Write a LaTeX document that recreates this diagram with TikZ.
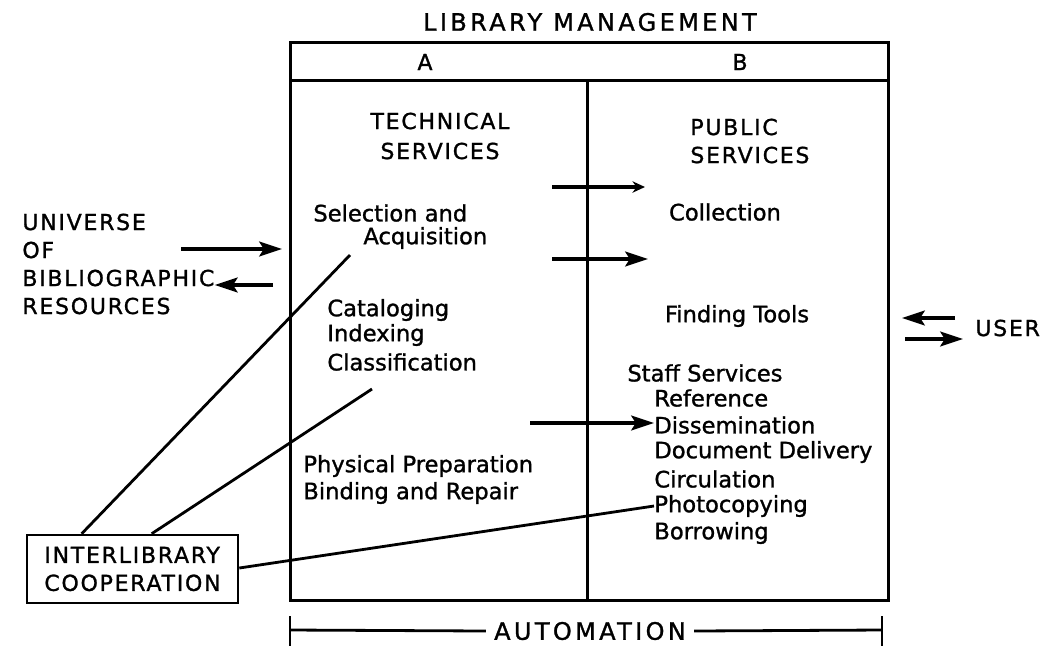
\documentclass[tikz,border=0pt]{standalone}
\usepackage{fontspec}
\setmainfont[FakeBold=1.2]{DejaVu Sans}
\newfontfamily\capsfont[LetterSpace=14, FakeBold=1.2]{DejaVu Sans}
\newfontfamily\sidefont[LetterSpace=8, FakeBold=1.2]{DejaVu Sans}
\usetikzlibrary{arrows.meta, positioning, calc}

\begin{document}
\begin{tikzpicture}[
    x=0.5pt, y=-0.5pt,
    caps/.style={font=\capsfont\fontsize{12}{15}\selectfont, inner sep=0pt, align=left},
    side/.style={font=\sidefont\fontsize{11}{14}\selectfont, inner sep=0pt, align=left},
    item/.style={font=\fontsize{11.3}{13.5}\selectfont, inner sep=0pt, align=left},
    frame/.style={line width=1.5pt},
    arrow/.style={-{Stealth[length=4mm, width=2.6mm, inset=0.8mm]}, line width=1.7pt},
    link/.style={line width=1.4pt}
]
    \useasboundingbox (0,0) rectangle (1056,645);

    % Frame with the two columns
    \node[caps] (title) at (590,22) {LIBRARY MANAGEMENT};
    \draw[frame] (290,42) rectangle (888,600);
    \draw[frame] (290,80) -- (888,80);
    \draw[frame] (587,80) -- (587,600);
    \node[side] (colA) at (425,62) {A};
    \node[side] (colB) at (740,62) {B};

    % Column A
    \node[side, font=\sidefont\fontsize{11}{15}\selectfont, align=center] (tech) at (440,136) {TECHNICAL\\SERVICES};
    \node[item, anchor=west] (sel) at (313,213) {Selection and};
    \node[item, anchor=west] (acq) at (363,238) {Acquisition};
    \node[item, anchor=west] (cat) at (327,310) {Cataloging};
    \node[item, anchor=west] (idx) at (327,335) {Indexing};
    \node[item, anchor=west] (cls) at (327,362) {Classification};
    \node[item, anchor=west] (phys) at (303,466) {Physical Preparation};
    \node[item, anchor=west] (bind) at (303,493) {Binding and Repair};

    % Column B
    \node[side, font=\sidefont\fontsize{11}{14}\selectfont, anchor=west] (pub) at (690,141) {PUBLIC\\SERVICES};
    \node[item] (coll) at (725,212) {Collection};
    \node[item] (find) at (737,316) {Finding Tools};
    \node[item, anchor=west] (staff) at (627,373) {Staff Services};
    \foreach \what [count=\i] in {Reference, Dissemination, Document Delivery,
        Circulation, Photocopying, Borrowing}
        \node[item, anchor=west] (staff\i) at (654,371+27*\i) {\what};

    % Flow from A to B
    \coordinate (fromA1) at (552,187);
    \coordinate (toB1) at (645,187);
    \coordinate (fromA2) at (552,259);
    \coordinate (toB2) at (648,259);
    \coordinate (fromA3) at (530,423);
    \draw[-{Stealth[length=2.2mm, width=2mm]}, line width=1.7pt] (fromA1) -- (toB1);
    \draw[arrow] (fromA2) -- (toB2);
    \draw[arrow] (fromA3) -- (fromA3 -| staff2.west);

    % Outside the library
    \node[side, anchor=west] (univ) at (22,264) {UNIVERSE\\OF\\BIBLIOGRAPHIC\\RESOURCES};
    \coordinate (inA) at (282,249);
    \coordinate (outA) at (273,285);
    \draw[arrow] (181,249) -- (inA);
    \draw[arrow] (outA) -- (univ.east |- outA);

    \node[side, anchor=west] (user) at (975,328) {USER};
    \coordinate (inB) at (955,318);
    \coordinate (outB) at (905,339);
    \draw[arrow] (inB) -- (902,318);
    \draw[arrow] (outB) -- (963,339);

    % Cooperation links
    \node[side, draw, line width=1.3pt, minimum width=211*0.5pt, minimum height=68*0.5pt,
        inner sep=3pt] (coop) at (132.5,569) {INTERLIBRARY\\COOPERATION};
    \coordinate (acqEnd) at (350,255);
    \coordinate (clsEnd) at (372,389);
    \draw[link] ($(coop.north west)+(56,0)$) -- (acqEnd);
    \draw[link] ($(coop.north west)+(126,0)$) -- (clsEnd);
    \draw[link] ($(coop.east)+(0,-1)$) -- (staff5.west);

    % Automation bar
    \node[caps, fill=white, inner sep=4pt] (auto) at (590,631) {AUTOMATION};
    \draw[line width=1.4pt] (290,616) -- (290,646);
    \draw[line width=1.4pt] (882,616) -- (882,646);
    \draw[line width=1.4pt] (290,630) -- (auto.west);
    \draw[line width=1.4pt] (auto.east) -- (882,630);
\end{tikzpicture}
\end{document}
